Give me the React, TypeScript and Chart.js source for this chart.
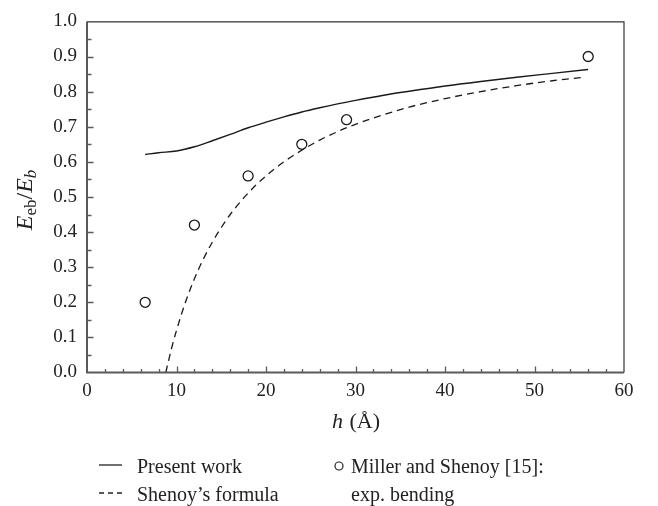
import React, { useEffect, useRef } from "react";
import { Chart, registerables } from "chart.js";

Chart.register(...registerables);

// ---- data ----
const presentH = [6.5, 8, 10, 12, 14, 16, 18, 20, 22, 24, 26, 28, 30, 33, 36, 40, 44, 48, 52, 56];
const presentE = [0.621, 0.626, 0.631, 0.643, 0.66, 0.678, 0.697, 0.713, 0.728, 0.742, 0.754, 0.765, 0.775, 0.789, 0.801, 0.816, 0.829, 0.841, 0.852, 0.863];

const shenoyH = [8.8, 9.5, 10, 11, 12, 13, 14, 15, 16, 18, 20, 22, 24, 26, 28, 30, 33, 36, 40, 44, 48, 52, 55.5];
const shenoyE = [0, 0.074, 0.12, 0.2, 0.267, 0.323, 0.371, 0.413, 0.45, 0.511, 0.56, 0.6, 0.633, 0.662, 0.686, 0.707, 0.733, 0.756, 0.78, 0.8, 0.817, 0.831, 0.841];

const millerH = [6.5, 12, 18, 24, 29, 56];
const millerE = [0.2, 0.42, 0.56, 0.65, 0.72, 0.9];

const xMin = 0, xMax = 60, xStep = 10, xMinorStep = 2;
const yMin = 0, yMax = 1, yStep = 0.1, yMinorStep = 0.05;

const legendPresent = "Present work";
const legendShenoy = "Shenoy’s formula";
const legendMiller1 = "Miller and Shenoy [15]:";
const legendMiller2 = "exp. bending";

const FONT = '"Liberation Serif", "Times New Roman", serif';

const decorPlugin = {
  id: "decor",
  afterDraw(chart: any) {
    const ctx: CanvasRenderingContext2D = chart.ctx;
    const { left, right, top, bottom } = chart.chartArea;
    const xs = chart.scales.x;
    const ys = chart.scales.y;
    ctx.save();

    // top & right frame
    ctx.strokeStyle = "#333";
    ctx.lineWidth = 1.2;
    ctx.beginPath();
    ctx.moveTo(left, top + 0.5);
    ctx.lineTo(right, top + 0.5);
    ctx.lineTo(right, bottom);
    ctx.stroke();

    // left & bottom axes
    ctx.strokeStyle = "#5a5a5a";
    ctx.lineWidth = 2;
    ctx.beginPath();
    ctx.moveTo(left, top);
    ctx.lineTo(left, bottom);
    ctx.lineTo(right, bottom);
    ctx.stroke();

    // inward ticks
    ctx.lineWidth = 1.3;
    ctx.beginPath();
    const nx = Math.round((xMax - xMin) / xMinorStep);
    for (let i = 1; i < nx; i++) {
      const v = xMin + i * xMinorStep;
      const px = Math.round(xs.getPixelForValue(v)) + 0.5;
      const len = Math.abs(v % xStep) < 1e-9 ? 6 : 3.5;
      ctx.moveTo(px, bottom);
      ctx.lineTo(px, bottom - len);
    }
    const ny = Math.round((yMax - yMin) / yMinorStep);
    for (let i = 1; i < ny; i++) {
      const v = yMin + i * yMinorStep;
      const py = Math.round(ys.getPixelForValue(v)) + 0.5;
      const len = i % 2 === 0 ? 6.5 : 4.5;
      ctx.moveTo(left, py);
      ctx.lineTo(left + len, py);
    }
    ctx.stroke();

    ctx.fillStyle = "#222";
    ctx.textBaseline = "alphabetic";

    // x axis title: h (Å)
    {
      const p1 = "h";
      const p2 = " (Å)";
      ctx.font = `italic 22px ${FONT}`;
      const w1 = ctx.measureText(p1).width;
      ctx.font = `22px ${FONT}`;
      const w2 = ctx.measureText(p2).width;
      const cx = (left + right) / 2;
      const x0 = cx - (w1 + w2) / 2;
      const base = 428;
      ctx.font = `italic 22px ${FONT}`;
      ctx.fillText(p1, x0, base);
      ctx.font = `22px ${FONT}`;
      ctx.fillText(p2, x0 + w1 + 1, base);
    }

    // y axis title: E_eb / E_b
    {
      ctx.save();
      ctx.translate(24, (top + bottom) / 2 + 3);
      ctx.rotate(-Math.PI / 2);
      const parts = [
        { t: "E", f: `italic 24px ${FONT}`, dy: 0 },
        { t: "eb", f: `17px ${FONT}`, dy: 4 },
        { t: "/", f: `24px ${FONT}`, dy: 0 },
        { t: "E", f: `italic 24px ${FONT}`, dy: 0 },
        { t: "b", f: `italic 17px ${FONT}`, dy: 4 },
      ];
      let total = 0;
      const widths: number[] = [];
      for (const p of parts) {
        ctx.font = p.f;
        const w = ctx.measureText(p.t).width;
        widths.push(w);
        total += w;
      }
      let x = -total / 2;
      const base = 8;
      parts.forEach((p, i) => {
        ctx.font = p.f;
        ctx.fillText(p.t, x, base + p.dy);
        x += widths[i];
      });
      ctx.restore();
    }

    // legend
    {
      const row1 = 473;
      const row2 = 501;
      ctx.font = `20px ${FONT}`;
      ctx.strokeStyle = "#222";
      ctx.lineWidth = 1.3;
      ctx.beginPath();
      ctx.moveTo(99, 465);
      ctx.lineTo(122, 465);
      ctx.stroke();
      ctx.fillText(legendPresent, 137, row1);
      ctx.setLineDash([5, 4]);
      ctx.beginPath();
      ctx.moveTo(99, 493);
      ctx.lineTo(122, 493);
      ctx.stroke();
      ctx.setLineDash([]);
      ctx.fillText(legendShenoy, 137, row2);
      ctx.lineWidth = 1.2;
      ctx.beginPath();
      ctx.arc(339, 466, 4, 0, Math.PI * 2);
      ctx.stroke();
      ctx.fillText(legendMiller1, 351, row1);
      ctx.fillText(legendMiller2, 351, row2);
    }

    ctx.restore();
  },
};

export default function App() {
  const canvasRef = useRef<HTMLCanvasElement | null>(null);

  useEffect(() => {
    if (!canvasRef.current) return;
    const chart = new Chart(canvasRef.current, {
      type: "line",
      data: {
        datasets: [
          {
            label: "Present work",
            data: presentH.map((h, i) => ({ x: h, y: presentE[i] })),
            borderColor: "#1a1a1a",
            borderWidth: 1.4,
            pointRadius: 0,
            fill: false,
            cubicInterpolationMode: "monotone",
          },
          {
            label: "Shenoy’s formula",
            data: shenoyH.map((h, i) => ({ x: h, y: shenoyE[i] })),
            borderColor: "#1a1a1a",
            borderWidth: 1.3,
            borderDash: [7, 5],
            pointRadius: 0,
            fill: false,
            cubicInterpolationMode: "monotone",
          },
          {
            label: "Miller and Shenoy [15]: exp. bending",
            data: millerH.map((h, i) => ({ x: h, y: millerE[i] })),
            showLine: false,
            pointStyle: "circle",
            pointRadius: 5,
            pointBorderWidth: 1.3,
            pointBorderColor: "#1a1a1a",
            pointBackgroundColor: "rgba(255,255,255,0)",
            borderColor: "#1a1a1a",
            backgroundColor: "rgba(255,255,255,0)",
          },
        ],
      },
      options: {
        animation: false,
        responsive: false,
        devicePixelRatio: 1,
        clip: false as any,
        layout: { padding: { left: 0, top: 12, right: 34, bottom: 0 } },
        plugins: {
          legend: { display: false },
          tooltip: { enabled: false },
        },
        scales: {
          x: {
            type: "linear",
            min: xMin,
            max: xMax,
            grid: { display: false, drawTicks: false },
            border: { display: false },
            ticks: {
              stepSize: xStep,
              padding: 7,
              color: "#222",
              font: { family: FONT, size: 19 },
              maxRotation: 0,
            },
            afterFit: (scale: any) => {
              scale.height = 133.5;
            },
          },
          y: {
            type: "linear",
            min: yMin,
            max: yMax,
            grid: { display: false, drawTicks: false },
            border: { display: false },
            ticks: {
              stepSize: yStep,
              padding: 10,
              color: "#222",
              font: { family: FONT, size: 19 },
              callback: (v: any) => Number(v).toFixed(1),
            },
            afterFit: (scale: any) => {
              scale.width = 87;
            },
          },
        },
      },
      plugins: [decorPlugin],
    });
    return () => chart.destroy();
  }, []);

  return (
    <div style={{ position: "fixed", left: 0, top: 0, width: 658, height: 506, background: "#fff" }}>
      <canvas ref={canvasRef} width={658} height={506} style={{ width: 658, height: 506, display: "block" }} />
    </div>
  );
}
